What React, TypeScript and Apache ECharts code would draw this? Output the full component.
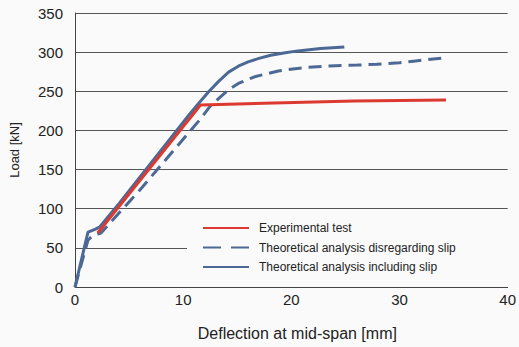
import React, { useEffect, useRef } from "react";
import * as echarts from "echarts";

const seriesNames = [
  "Experimental test",
  "Theoretical analysis disregarding slip",
  "Theoretical analysis including slip",
];

const experimental: [number, number][] = [
  [2.1, 69],
  [11.6, 232.5],
  [25.8, 237.5],
  [34.3, 239],
];

const disregardingSlip: [number, number][] = [
  [0, 0],
  [1.2, 60],
  [1.7, 66],
  [2.4, 69],
  [6, 124],
  [11.5, 213],
  [12.5, 231],
  [13.5, 243.5],
  [14.3, 253],
  [15.1, 260],
  [16.6, 268.5],
  [18.8, 276],
  [21.2, 280.3],
  [23.5, 282.4],
  [26.1, 283.5],
  [27.9, 284.5],
  [30, 286.5],
  [31.3, 288.5],
  [34.3, 293],
];

const includingSlip: [number, number][] = [
  [0, 0],
  [1.2, 70],
  [1.9, 74],
  [2.3, 77],
  [4.1, 107],
  [10.5, 219],
  [11.4, 234],
  [12.4, 250],
  [13.3, 263],
  [14.2, 274.5],
  [15.1, 282],
  [16, 287.5],
  [17, 292],
  [18.1, 296],
  [19.3, 299],
  [20.6, 301.6],
  [22.7, 304.6],
  [24.9, 306.7],
];

const xTicks = { min: 0, max: 40, interval: 10 };
const yTicks = { min: 0, max: 350, interval: 50 };

const RED = "#dc3a30";
const BLUE = "#4c6895";

export default function App() {
  const ref = useRef<HTMLDivElement>(null);
  useEffect(() => {
    if (!ref.current) return;
    const chart = echarts.init(ref.current, null, { renderer: "svg" });
    const font = "Liberation Sans, Arial, sans-serif";
    chart.setOption({
      animation: false,
      backgroundColor: "#fafafa",
      grid: { left: 75, right: 6, top: 13, bottom: 60 },
      xAxis: {
        type: "value",
        min: xTicks.min,
        max: xTicks.max,
        interval: xTicks.interval,
        name: "Deflection at mid-span [mm]",
        nameLocation: "middle",
        nameGap: 38,
        nameTextStyle: { fontFamily: font, fontSize: 16, color: "#222", padding: [0, 0, 0, 12] },
        axisLine: { show: true, lineStyle: { color: "#444", width: 1 } },
        axisTick: { show: false },
        splitLine: { show: false },
        axisLabel: { fontFamily: font, fontSize: 15, color: "#222", margin: 5 },
      },
      yAxis: {
        type: "value",
        min: yTicks.min,
        max: yTicks.max,
        interval: yTicks.interval,
        name: "Load [kN]",
        nameLocation: "middle",
        nameGap: 54,
        nameTextStyle: { fontFamily: font, fontSize: 13, color: "#222" },
        axisLine: { show: true, lineStyle: { color: "#444", width: 1 } },
        axisTick: { show: false },
        splitLine: { show: true, lineStyle: { color: "#555", width: 1 } },
        axisLabel: { fontFamily: font, fontSize: 15, color: "#222", margin: 12 },
      },
      legend: {
        orient: "vertical",
        left: 187,
        top: 217,
        width: 300,
        padding: [5, 70, 6, 15],
        backgroundColor: "#fafafa",
        itemWidth: 46,
        itemHeight: 10,
        itemGap: 7.5,
        itemStyle: { opacity: 0 },
        textStyle: { fontFamily: font, fontSize: 12, color: "#222", padding: [0, 0, 0, 5] },
        data: [
          { name: seriesNames[0] },
          { name: seriesNames[1], lineStyle: { type: [18, 10] } },
          { name: seriesNames[2] },
        ],
      },
      series: [
        {
          name: seriesNames[0],
          type: "line",
          data: experimental,
          symbol: "none",
          z: 3,
          lineStyle: { color: RED, width: 3 },
          itemStyle: { color: RED },
        },
        {
          name: seriesNames[1],
          type: "line",
          data: disregardingSlip,
          symbol: "none",
          z: 2,
          lineStyle: { color: BLUE, width: 3, type: [13, 7] },
          itemStyle: { color: BLUE },
        },
        {
          name: seriesNames[2],
          type: "line",
          data: includingSlip,
          symbol: "none",
          z: 2,
          lineStyle: { color: BLUE, width: 3 },
          itemStyle: { color: BLUE },
        },
      ],
    });
    return () => chart.dispose();
  }, []);
  return (
    <div
      ref={ref}
      style={{ position: "fixed", left: 0, top: 0, width: 519, height: 347 }}
    />
  );
}
